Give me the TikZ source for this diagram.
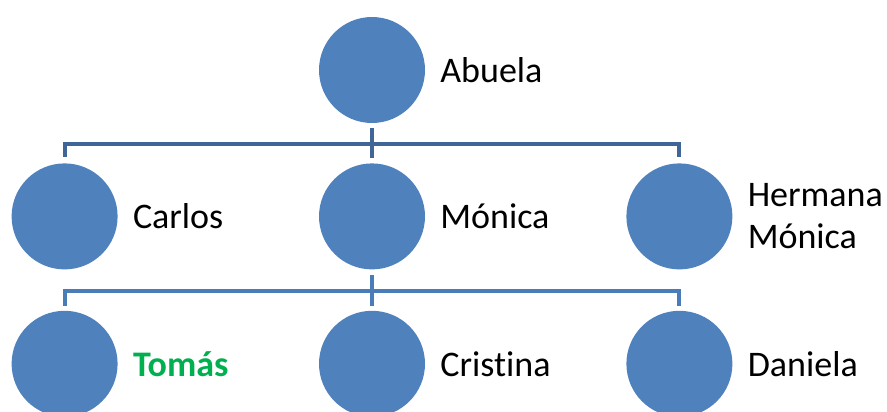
\documentclass[tikz,border=0pt]{standalone}
\usepackage{fontspec}
\setmainfont[Ligatures=NoCommon]{Carlito}
\usepackage{tikz}
\usepackage{xcolor}
\usetikzlibrary{positioning}
\definecolor{azul}{HTML}{4F81BD}
\definecolor{rama1}{HTML}{3F6696}
\definecolor{rama2}{HTML}{4A7CB8}
\definecolor{verde}{HTML}{00B050}

\begin{document}
\begin{tikzpicture}[x=1pt, y=1pt,
		persona/.style={circle, fill=azul, minimum size=106pt, inner sep=0pt},
		nombre/.style={anchor=west, inner sep=0pt, align=left, font=\fontsize{36}{42}\selectfont},
		rama/.style={line width=4pt, line join=miter}]
		\useasboundingbox (0,-412) rectangle (887,0);

		\node(abuela)	[persona] at (372,-70)			{};
		\node(monica)	[persona, below=40pt of abuela]	{};
		\node(carlos)	[persona, left=201pt of monica]	{};
		\node(hermana)	[persona, right=201pt of monica]	{};
		\node(cristina)	[persona, below=41pt of monica]	{};
		\node(tomas)	[persona, left=201pt of cristina]	{};
		\node(daniela)	[persona, right=201pt of cristina]	{};

		\node(tAbuela)	[nombre] at ([xshift=15pt]abuela.east)		{Abuela};
		\node(tCarlos)	[nombre] at ([xshift=15pt]carlos.east)		{Carlos};
		\node(tMonica)	[nombre] at ([xshift=15pt]monica.east)		{Mónica};
		\node(tHermana)	[nombre] at ([xshift=15pt]hermana.east)		{Hermana\\Mónica};
		\node(tTomas)	[nombre, text=verde, font=\fontsize{36}{42}\selectfont\bfseries] at ([xshift=15pt]tomas.east) {Tomás};
		\node(tCristina)	[nombre] at ([xshift=15pt]cristina.east)	{Cristina};
		\node(tDaniela)	[nombre] at ([xshift=15pt]daniela.east)		{Daniela};

		% primera generacion
		\coordinate(j1) at ([yshift=-21pt]abuela.south);
		\draw[rama, rama1] ([yshift=-5pt]abuela.south) -- ([yshift=5pt]monica.north);
		\draw[rama, rama1] ([yshift=6pt]carlos.north) |- (j1) -| ([yshift=6pt]hermana.north);
		% segunda generacion
		\coordinate(j2) at ([yshift=-21pt]monica.south);
		\draw[rama, rama2] ([yshift=-5pt]monica.south) -- ([yshift=5pt]cristina.north);
		\draw[rama, rama2] ([yshift=5pt]tomas.north) |- (j2) -| ([yshift=5pt]daniela.north);
	\end{tikzpicture}
\end{document}
